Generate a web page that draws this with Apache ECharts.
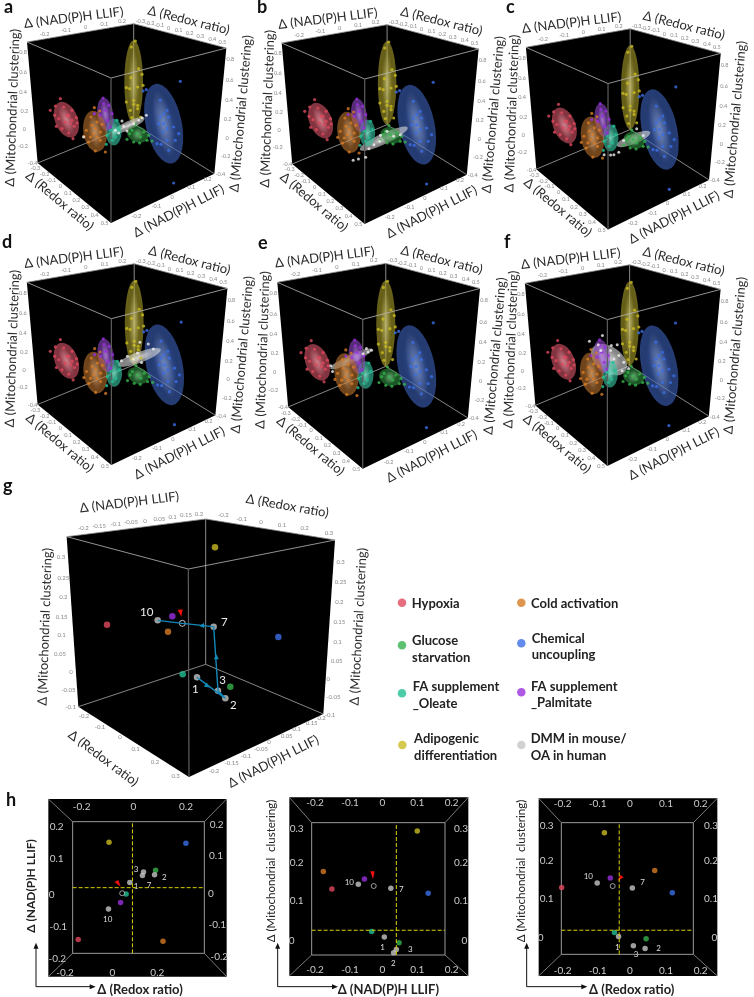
<!DOCTYPE html>
<html><head><meta charset="utf-8">
<style>html,body{margin:0;padding:0;background:#fff}#c{width:754px;height:997px}</style>
<script src="https://cdn.jsdelivr.net/npm/echarts@6/dist/echarts.min.js"></script>
</head><body><div id="c"></div>
<script>
const categories = ['Hypoxia','Cold activation','Glucose starvation','Chemical uncoupling','FA supplement _Oleate','FA supplement _Palmitate','Adipogenic differentiation','DMM in mouse/OA in human'];
const colors = ['#e0485c','#d67a24','#36b24c','#3b6ee6','#22bf95','#9a2fe0','#c9bc22','#c6c6c6'];
const ellipsoidColors = ['#d85568','#b8702c','#2f8f40','#3c62bc','#38c8a4','#8f45c8','#a89c28','#d8d8d8'];

// 3D panels: scatter
const hypoxiaCloud = [[180,295],[165,317],[150,330],[163,345],[190,320],[215,330],[228,352],[230,368],[205,345],[175,355],[195,365],[210,370],[185,385],[168,378],[205,398],[218,415],[222,378],[200,345],[215,360]];
const coldCloud = [[282,322],[298,332],[272,350],[258,390],[275,375],[290,365],[285,385],[300,395],[270,410],[290,410],[300,420],[285,452],[315,455],[265,425],[305,372],[280,400],[250,408]];
const glucoseCloud = [[380,417],[400,425],[418,428],[440,420],[455,422],[405,372],[430,395],[445,405],[395,390],[420,410],[410,400],[388,400]];
const chemicalCloud = [[540,243],[520,548],[438,268],[428,272],[480,300],[500,330],[490,340],[505,350],[480,350],[475,370],[490,370],[500,385],[520,380],[488,395],[535,400],[525,420],[500,420],[470,430],[482,432],[505,450]];
const oleateCloud = [[318,432],[332,390],[345,410],[355,385],[335,420],[350,360],[320,405]];
const palmitateCloud = [[308,293],[282,340],[325,315],[335,340],[310,310],[322,360],[330,380],[300,345],[315,330]];
const adipogenicCloud = [[405,122],[393,140],[415,205],[392,232],[425,222],[378,262],[388,265],[412,260],[428,255],[378,305],[400,312],[412,325],[390,330],[420,350],[395,352],[412,315],[400,300]];
const clouds = [hypoxiaCloud,coldCloud,glucoseCloud,chemicalCloud,oleateCloud,palmitateCloud,adipogenicCloud];

// ellipsoid outlines: cx, cy, rx, ry, tilt (deg), category
const backEllipsoids = [[490,370,54,122,12,3],[400,245,28,125,0,6]];
const frontEllipsoids = [[412,402,33,24,-20,2],[340,395,24,40,0,4],[315,342,24,50,8,5],[198,358,34,56,22,0],[284,393,35,62,8,1]];
const dmmEllipsoids = [
 [385,375,52,13,25],[390,412,80,16,25],[410,398,55,15,22],[415,348,68,16,20],[298,348,68,12,25],[337,352,62,38,-35]];
const dmmClouds = [
 [[250,410],[365,362],[438,345],[380,392],[400,370],[345,390],[370,378],[415,360],[355,398],[425,352]],
 [[297,477],[313,473],[335,468],[380,402],[400,390],[360,430],[345,442],[420,405],[378,420],[440,400]],
 [[320,445],[340,446],[350,445],[365,438],[420,368],[380,403],[440,388]],
 [[442,308],[417,303],[422,363],[457,323],[397,353],[362,358],[380,345],[410,335]],
 [[343,318],[358,323],[348,328],[238,368],[243,385],[333,333]],
 [[277,297],[317,280],[304,308],[344,310],[362,308],[397,378],[367,340],[382,360],[352,350],[377,385],[342,325],[312,325]]];

// cube corners of the projection: TL TB TR TF BL BF BR BB
const cubeCorners = [[80,125],[400,70],[678,143],[332,233],[112,488],[332,668],[642,520],[400,370]];
const panelFrames = [[27,42,1,1],[281.7,43,.988,1],[526.7,47.3,1.007,1.007],[26,282.3,1.01,1.01],[277.3,282.3,1.017,1.03],[526,283.3,1.023,1.009]];

const ticks3d = [
 [133,102,'-0.2'],[197,90,'-0.1'],[256,81,'0'],[312,72,'0.1'],[365,62,'0.2'],
 [420,62,'-0.3'],[448,68,'-0.2'],[477,75,'-0.1'],[505,85,'0'],[535,90,'0.1'],[568,98,'0.2'],[600,107,'0.3'],[636,116,'0.4'],[666,125,'0.5'],
 [68,157,'0.8'],[68,217,'0.6'],[68,275,'0.4'],[72,332,'0.2'],[72,386,'0'],[68,438,'-0.2'],[97,490,'-0.4'],
 [690,177,'0.8'],[688,241,'0.6'],[686,300,'0.4'],[682,358,'0.2'],[680,414,'0'],[676,468,'-0.2'],[660,522,'-0.4'],
 [105,505,'-0.3'],[133,523,'-0.2'],[153,540,'-0.1'],[180,557,'0'],[203,578,'0.1'],[228,600,'0.2'],[255,622,'0.3'],[283,645,'0.4'],[313,670,'0.5'],
 [408,648,'-0.2'],[468,618,'-0.1'],[515,590,'0'],[573,562,'0.1'],[622,538,'0.2']];
const titles3d = [
 [220,52,'Δ (NAD(P)H LLIF)',7],[565,60,'Δ (Redox ratio)',-14],[37,322,'Δ (Mitochondrial clustering)',88],[722,340,'Δ (Mitochondrial clustering)',85],
 [178,602,'Δ (Redox ratio)',-40],[535,632,'Δ (NAD(P)H LLIF)',27]];

// panel g: group means as projected positions
const gCube = [[200,200],[617,147],[1005,210],[565,297],[235,710],[567,921],[970,732],[617,583]];
const gPoints = [[321,464,0],[504,485,1],[691,650,2],[835,501,3],[548,613,4],[517,439,5],[645,232,6]];
const gDmm = [[591,622],[676,685],[654,662],[641,470],[473,451]];
const gOpen = [[547,460]];
const gPath = [[591,622],[676,685],[654,662],[641,470],[547,460],[473,451]];
const gArrowHeads = [[622,648,-127],[649,560,0],[605,467,95]];
const gRed = [[533,420],[548,418],[544,440]];
const gTicks = [
 [250,174,'-0.2'],[297,168,'-0.15'],[347,162,'-0.1'],[393,157,'-0.05'],[435,152,'0'],[478,146,'0.05'],[518,142,'0.1'],[558,136,'0.15'],[597,132,'0.2'],
 [670,136,'-0.2'],[725,146,'-0.1'],[783,155,'0'],[846,165,'0.1'],[914,175,'0.2'],[987,188,'0.3'],
 [183,262,'0.3'],[190,325,'0.25'],[190,382,'0.2'],[185,440,'0.15'],[185,495,'0.1'],[180,553,'0.05'],[213,606,'0'],[205,660,'-0.05'],[212,712,'-0.1'],
 [1022,275,'0.3'],[1022,336,'0.25'],[1018,397,'0.2'],[1018,457,'0.15'],[1013,515,'0.1'],[1010,572,'0.05'],[985,627,'0'],[1000,682,'-0.05'],[990,735,'-0.1'],
 [252,738,'-0.2'],[300,770,'-0.1'],[360,801,'0'],[407,838,'0.1'],[465,875,'0.2'],[527,918,'0.3'],
 [965,745,'0.2'],[935,760,'0.15'],[890,778,'0.1'],[860,797,'0.05'],[807,817,'0'],[783,837,'-0.05'],[738,858,'-0.1'],[695,880,'-0.15'],[642,902,'-0.2']];
const gTitles = [
 [388,97,'Δ (NAD(P)H LLIF)',7],[862,108,'Δ (Redox ratio)',-10],[135,470,'Δ (Mitochondrial clustering)',88],[1075,470,'Δ (Mitochondrial clustering)',87],
 [310,865,'Δ (Redox ratio)',-37],[820,875,'Δ (NAD(P)H LLIF)',27]];
const gNotes = [[440,428,'10'],[673,458,'7'],[586,658,'1'],[668,632,'3'],[700,706,'2']];

// panel h: projections of the group means, in data units
const h1Means = [[-0.209,-0.136,0],[0.113,-0.141,1],[0.085,0.075,2],[0.200,0.157,3],[-0.027,0.003,4],[-0.048,-0.023,5],[-0.092,0.160,6]];
const h1Dmm = [[-0.013,0.038],[0.081,0.061],[0.039,0.070],[0.035,0.059],[-0.094,-0.043]];
const h1Open = [[-0.042,0.005]];
const h2Means = [[-0.147,0.138,0],[-0.172,0.185,1],[0.049,-0.005,2],[0.134,0.127,3],[-0.031,0.025,4],[-0.052,0.165,5],[0.102,0.293,6]];
const h2Dmm = [[0.006,0.010],[0.033,-0.032],[0.041,-0.023],[0.025,0.140],[-0.070,0.151]];
const h2Open = [[-0.025,0.146]];
const h3Means = [[-0.198,0.134,0],[0.072,0.180,1],[0.047,-0.004,2],[0.123,0.120,3],[-0.045,0.013,4],[-0.057,0.160,5],[-0.074,0.282,6]];
const h3Dmm = [[-0.033,0.002],[0.044,-0.030],[0.010,-0.023],[0.007,0.133],[-0.095,0.146]];
const h3Open = [[-0.050,0.138]];
const hPanels = [
 {origin:[0,780],w:260,outer:[145,57,680,590],inner:[218,125,613,520],xr:[-0.230,0.270],yr:[-0.178,0.223],zero:[-0.003,0.022],means:h1Means,dmm:h1Dmm,open:h1Open,
  ticks:[[245,80,'-0.2'],[400,80,'0'],[558,80,'0.2'],[195,578,'-0.2'],[337,578,'0'],[472,578,'0.2'],[170,140,'0.2'],[170,235,'0.1'],[155,345,'0'],[175,440,'-0.1'],[172,535,'-0.2'],[650,133,'0.2'],[648,228,'0.1'],[633,340,'0'],[652,435,'-0.1'],[658,530,'-0.2']],
  notes:[[408,267,'3'],[493,293,'2'],[408,318,'1'],[447,315,'7'],[323,417,'10']],
  red:[[362,320],[343,306],[355,300]],
  titles:[[92,318,'Δ (NAD(P)H LLIF)',90],[420,630,'Δ (Redox ratio)',0]],bold:[true,true],ell:[[108,500],[108,620],[275,620]]},
 {origin:[260,780],w:250,outer:[88,52,625,588],inner:[155,128,555,525],xr:[-0.206,0.183],yr:[-0.038,0.315],zero:[0.041,0.028],means:h2Means,dmm:h2Dmm,open:h2Open,
  ticks:[[165,68,'-0.2'],[270,68,'-0.1'],[367,68,'0'],[472,68,'0.1'],[575,68,'0.2'],[165,570,'-0.2'],[270,570,'-0.1'],[367,570,'0'],[472,570,'0.1'],[575,570,'0.2'],[110,145,'0.3'],[110,248,'0.2'],[110,362,'0.1'],[95,482,'0'],[603,145,'0.3'],[603,248,'0.2'],[603,362,'0.1'],[613,482,'0']],
  notes:[[268,308,'10'],[424,328,'7'],[368,502,'1'],[451,508,'3'],[400,550,'2']],
  red:[[339,298],[331,274],[344,274]],
  titles:[[35,273,'Δ (Mitochondrial  clustering)',90],[385,630,'Δ (NAD(P)H LLIF)',0]],bold:[false,true],ell:[[53,500],[53,620],[222,620]]},
 {origin:[510,780],w:244,outer:[86,55,622,588],inner:[154,128,550,523],xr:[-0.199,0.184],yr:[-0.046,0.309],zero:[-0.031,0.019],means:h3Means,dmm:h3Dmm,open:h3Open,
  ticks:[[158,72,'-0.2'],[263,72,'-0.1'],[360,72,'0'],[468,72,'0.1'],[572,72,'0.2'],[158,573,'-0.2'],[263,573,'-0.1'],[360,573,'0'],[468,573,'0.1'],[572,573,'0.2'],[110,138,'0.3'],[110,243,'0.2'],[110,355,'0.1'],[92,472,'0'],[603,138,'0.3'],[603,243,'0.2'],[603,355,'0.1'],[613,472,'0']],
  notes:[[235,290,'10'],[398,308,'7'],[322,503,'1'],[378,522,'3'],[446,505,'2']],
  red:[[323,303],[331,285],[341,292]],
  titles:[[33,273,'Δ (Mitochondrial  clustering)',90],[365,630,'Δ (Redox ratio)',0]],bold:[false,true],ell:[[50,500],[50,620],[220,620]]}];

// legend
const legendDots = [[66,68,0],[424,68,1],[66,196,2],[424,190,3],[66,340,4],[424,337,5],[67,495,6],[424,495,7]];
const legendText = [[95,72,'Hypoxia'],[453,72,'Cold activation'],[96,183,'Glucose'],[96,233,'starvation'],[455,175,'Chemical'],[455,225,'uncoupling'],[98,321,'FA supplement'],[98,371,'_Oleate'],[453,320,'FA supplement'],[453,368,'_Palmitate'],[102,477,'Adipogenic'],[102,527,'differentiation'],[452,477,'DMM in mouse/'],[452,527,'OA in human']];
const panelLetters = [['a',9,9],['b',262,9],['c',511,9],['d',7,244],['e',263,245],['f',509,244],['g',8,488],['h',11,802]];

const FONT = 'Lato';
const grids = [], xAxes = [], yAxes = [], series = [];
function addGrid(left, top, width, height, xr, yr, inverse) {
  grids.push({left, top, width, height, containLabel:false, show:false});
  xAxes.push({type:'value', gridIndex:grids.length-1, min:xr[0], max:xr[1], show:false});
  yAxes.push({type:'value', gridIndex:grids.length-1, min:yr[0], max:yr[1], show:false, inverse:!!inverse});
  return grids.length-1;
}
const on = g => ({coordinateSystem:'cartesian2d', xAxisIndex:g, yAxisIndex:g, silent:true, animation:false});
function textSeries(g, rows, st) {
  series.push(Object.assign(on(g), {type:'custom', clip:false, data:rows.map(r=>[r[0],r[1]]), encode:{x:0,y:1},
    renderItem(p, api) {
      const r = rows[p.dataIndex], c = api.coord([api.value(0), api.value(1)]);
      return {type:'text', x:c[0], y:c[1], rotation:(r[3]||0)*Math.PI/180,
        style:{text:r[2], fill:st.color, fontSize:st.size, fontFamily:FONT, fontWeight:st.weight||'normal', align:st.align||'center', verticalAlign:'middle'}};
    }}));
}
function shapeSeries(g, build) {
  series.push(Object.assign(on(g), {type:'custom', clip:false, data:[[0,0]], encode:{x:0,y:1},
    renderItem(p, api) { return {type:'group', children:build(q=>api.coord(q))}; }}));
}
const seg = (a,b,stroke,w) => ({type:'line', shape:{x1:a[0],y1:a[1],x2:b[0],y2:b[1]}, style:{stroke, lineWidth:w}});
function cubeBack(g, C) {
  shapeSeries(g, co => {
    const P = C.map(co), [TL,TB,TR,TF,BL,BF,BR,BB] = P;
    return [{type:'polygon', shape:{points:[TL,TB,TR,BR,BF,BL]}, style:{fill:'#000'}},
      seg(TL,TB,'#8a8a8a',.8), seg(TB,TR,'#8a8a8a',.8), seg(TB,BB,'#8a8a8a',1), seg(BL,BB,'#a8a8a8',.8), seg(BB,BR,'#a8a8a8',.8)];
  });
}
function cubeFront(g, C) {
  shapeSeries(g, co => {
    const [TL,,TR,TF,,BF] = C.map(co);
    return [seg(TL,TF,'#b8b8b8',.8), seg(TF,TR,'#b8b8b8',.8), seg(TF,BF,'#5e5e5e',1.2)];
  });
}
function hexA(h,a){const n=parseInt(h.slice(1),16);return `rgba(${n>>16},${(n>>8)&255},${n&255},${a})`;}
function ellipseSeries(g, rows, colorOf) {
  series.push(Object.assign(on(g), {type:'custom', clip:false, data:rows.map(r=>[r[0],r[1]]), encode:{x:0,y:1},
    renderItem(p, api) {
      const r = rows[p.dataIndex], c = api.coord([r[0],r[1]]), s = api.size([1,1]), col = colorOf(r);
      const rx = r[2]*s[0], ry = r[3]*s[1];
      return {type:'group', x:c[0], y:c[1], rotation:r[4]*Math.PI/180, children:[
        {type:'circle', shape:{cx:0,cy:0,r:1}, scaleX:rx, scaleY:ry,
         style:{fill:{type:'radial',x:.5,y:.5,r:.5,colorStops:[{offset:0,color:hexA(col,.85)},{offset:.7,color:hexA(col,.6)},{offset:1,color:hexA(col,.62)}]}}},
        {type:'circle', shape:{cx:0,cy:0,r:1}, scaleX:rx*.5, scaleY:ry*.85,
         style:{fill:{type:'radial',x:.5,y:.5,r:.5,colorStops:[{offset:0,color:'rgba(255,255,255,.3)'},{offset:1,color:'rgba(255,255,255,0)'}]}}}
      ]};
    }}));
}
function scatter(g, data, color, size, extra) {
  series.push(Object.assign(on(g), {type:'scatter', data, symbolSize:size, itemStyle:{color}}, extra||{}));
}
function meanScatter(g, rows, size) {
  series.push(Object.assign(on(g), {type:'scatter', data:rows.map(r=>({value:[r[0],r[1]], itemStyle:{color:colors[r[2]]}})), symbolSize:size}));
}
function polySeries(g, pts, fill) {
  shapeSeries(g, co => [{type:'polygon', shape:{points:pts.map(co)}, style:{fill}}]);
}

// panels a-f
panelFrames.forEach((f, i) => {
  const left = f[0]-cubeCorners[0][0]/3*f[2], top = f[1]-cubeCorners[0][1]/3*f[3];
  const g = addGrid(left, top, 260*f[2], 240*f[3], [0,780], [0,720], true);
  cubeBack(g, cubeCorners);
  ellipseSeries(g, backEllipsoids, r=>ellipsoidColors[r[5]]);
  ellipseSeries(g, [dmmEllipsoids[i]], ()=>ellipsoidColors[7]);
  ellipseSeries(g, frontEllipsoids, r=>ellipsoidColors[r[5]]);
  clouds.forEach((c, k) => scatter(g, c, colors[k], 3.2));
  scatter(g, dmmClouds[i], '#f0f0f0', 3);
  cubeFront(g, cubeCorners);
  textSeries(g, ticks3d, {color:'#888', size:5.5});
  textSeries(g, titles3d, {color:'#2a2a2a', size:13});
});

// panel g
{
  const g = addGrid(0, 470, 370, 330, [0,1110], [0,990], true);
  cubeBack(g, gCube);
  series.push(Object.assign(on(g), {type:'line', data:gPath, symbol:'none', lineStyle:{color:'#1488b8', width:1.4}}));
  meanScatter(g, gPoints, 6.5);
  scatter(g, gDmm, '#c6c6c6', 6.5);
  scatter(g, gOpen, '#000', 6, {itemStyle:{color:'#000', borderColor:'#eee', borderWidth:1}});
  gArrowHeads.forEach(a => scatter(g, [[a[0],a[1]]], '#19b5e8', 5, {symbol:'triangle', symbolRotate:a[2]}));
  polySeries(g, gRed, '#ee1111');
  cubeFront(g, gCube);
  textSeries(g, gTicks, {color:'#888', size:6});
  textSeries(g, gTitles, {color:'#2a2a2a', size:13});
  textSeries(g, gNotes, {color:'#eee', size:11.5});
}

// panel h
hPanels.forEach(h => {
  const W = h.w*3, fg = addGrid(h.origin[0], h.origin[1], h.w, 217, [0,W], [0,651], true);
  const [ox0,oy0,ox1,oy1] = h.outer, [ix0,iy0,ix1,iy1] = h.inner;
  shapeSeries(fg, co => {
    const a=co([ox0,oy0]), b=co([ox1,oy0]), c=co([ox1,oy1]), d=co([ox0,oy1]);
    const e=co([ix0,iy0]), f=co([ix1,iy0]), k=co([ix1,iy1]), l=co([ix0,iy1]);
    return [{type:'polygon', shape:{points:[a,b,c,d]}, style:{fill:'#000'}},
      seg(a,e,'#999',.8), seg(b,f,'#999',.8), seg(c,k,'#999',.8), seg(d,l,'#999',.8),
      {type:'polygon', shape:{points:[e,f,k,l]}, style:{fill:'none', stroke:'#999', lineWidth:1}}];
  });
  textSeries(fg, h.ticks, {color:'#ccc', size:10});
  const ig = addGrid(h.origin[0]+ix0/3, h.origin[1]+iy0/3, (ix1-ix0)/3, (iy1-iy0)/3, h.xr, h.yr, false);
  const dash = {type:'dashed', color:'#d9d000', width:1};
  series.push(Object.assign(on(ig), {type:'line', symbol:'none', lineStyle:dash, data:[[h.zero[0],h.yr[0]],[h.zero[0],h.yr[1]]]}));
  series.push(Object.assign(on(ig), {type:'line', symbol:'none', lineStyle:dash, data:[[h.xr[0],h.zero[1]],[h.xr[1],h.zero[1]]]}));
  meanScatter(ig, h.means, 5.5);
  scatter(ig, h.dmm, '#c6c6c6', 5.5);
  scatter(ig, h.open, '#000', 5, {itemStyle:{color:'#000', borderColor:'#eee', borderWidth:.8}});
  polySeries(fg, h.red, '#ee1111');
  textSeries(fg, h.notes, {color:'#ddd', size:8});
  textSeries(fg, [h.titles[0]], {color:'#222', size:h.bold[0]?12:11.5, weight:h.bold[0]?'bold':'normal'});
  textSeries(fg, [h.titles[1]], {color:'#222', size:13, weight:'bold'});
  shapeSeries(fg, co => {
    const [p,q,r] = h.ell.map(co);
    return [{type:'polyline', shape:{points:[p,q,r]}, style:{stroke:'#111', lineWidth:1, fill:'none'}},
      {type:'polygon', shape:{points:[[p[0],p[1]-4],[p[0]-2.5,p[1]+2],[p[0]+2.5,p[1]+2]]}, style:{fill:'#111'}},
      {type:'polygon', shape:{points:[[r[0]+4,r[1]],[r[0]-2,r[1]-2.5],[r[0]-2,r[1]+2.5]]}, style:{fill:'#111'}}];
  });
});

// legend block
{
  const g = addGrid(380, 580, 300, 190, [0,900], [0,570], true);
  series.push(Object.assign(on(g), {type:'scatter', symbolSize:8.5, data:legendDots.map(r=>({name:categories[r[2]], value:[r[0],r[1]], itemStyle:{color:colors[r[2]]}}))}));
  textSeries(g, legendText, {color:'#222', size:13, weight:'bold', align:'left'});
}

const chart = echarts.init(document.getElementById('c'), null, {renderer:'canvas'});
chart.setOption({
  animation:false, backgroundColor:'#fff', tooltip:{show:false},
  title: panelLetters.map(l=>({text:l[0], left:l[1]-5, top:l[2]-11, padding:0, textStyle:{fontFamily:FONT, fontSize:18, fontWeight:'bold', color:'#111'}})),
  grid:grids, xAxis:xAxes, yAxis:yAxes, series
});
</script></body></html>
